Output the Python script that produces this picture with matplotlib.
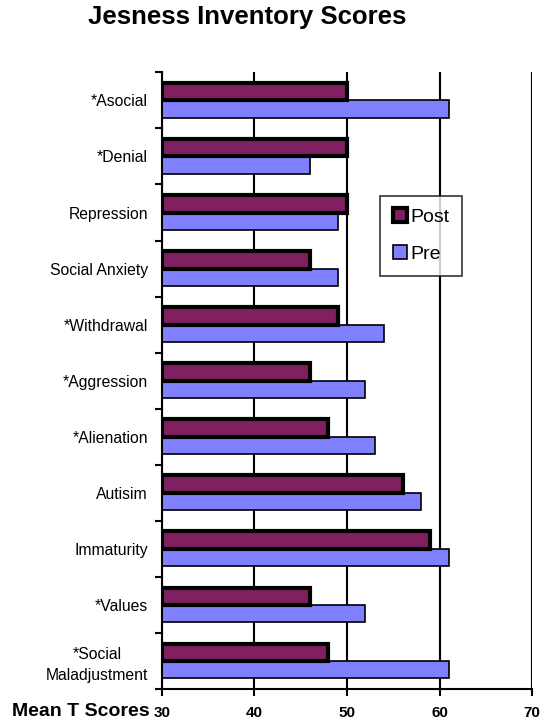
import numpy as np
import matplotlib
matplotlib.use("Agg")
import matplotlib.pyplot as plt

# Jesness inventory, mean T scores
categories = ["*Asocial", "*Denial", "Repression", "Social Anxiety", "*Withdrawal",
              "*Aggression", "*Alienation", "Autisim", "Immaturity", "*Values",
              "*Social\nMaladjustment"]
post = [50, 50, 50, 46, 49, 46, 48, 56, 59, 46, 48]
pre = [61, 46, 49, 49, 54, 52, 53, 58, 61, 52, 61]

plt.rcParams['font.family'] = ['Liberation Sans', 'DejaVu Sans']

fig = plt.figure(figsize=(5.41, 7.28), dpi=100)
ax = fig.add_axes([0.2994, 0.0536, 0.684, 0.847])

y = np.arange(len(categories))
h = 0.31
ax.barh(y - h / 2, np.array(post) - 30, left=30, height=h, color="#802060",
        edgecolor="black", linewidth=3, label="Post", zorder=3)
ax.barh(y + h / 2, np.array(pre) - 30, left=30, height=h, color="#8080FF",
        edgecolor="black", linewidth=1.2, label="Pre", zorder=2)

ax.set_xlim(30, 70)
ax.set_ylim(len(categories) - 0.5, -0.5)
ax.set_xticks([30, 40, 50, 60, 70])
ax.set_xticklabels(["30", "40", "50", "60", "70"], fontweight="bold", fontsize=11)
ax.set_yticks(y)
ax.set_yticklabels(categories, fontsize=11.3, ha="right", multialignment="center",
                   linespacing=1.5)
ax.tick_params(axis="y", which="major", length=0, pad=10)
ax.set_yticks(np.arange(-0.5, len(categories), 1), minor=True)
ax.tick_params(axis="y", which="minor", length=5, width=1.5, direction="out")
ax.tick_params(axis="x", length=5, width=1.5, direction="out", pad=7)

ax.grid(axis="x", color="black", linewidth=1.5, zorder=0)
ax.set_axisbelow(True)
for s in ["top", "right"]:
    ax.spines[s].set_visible(False)
for s in ["left", "bottom"]:
    ax.spines[s].set_linewidth(1.5)

leg = ax.legend(loc="upper left", bbox_to_anchor=(0.59, 0.8), fontsize=14,
                frameon=True, fancybox=False, edgecolor="black",
                handlelength=0.7, handleheight=0.7, handletextpad=0.2,
                labelspacing=1.0, borderpad=0.65, borderaxespad=0)
leg.get_frame().set_linewidth(1.2)

fig.text(0.456, 0.977, "Jesness Inventory Scores", ha="center", va="center",
         fontsize=18.5, fontweight="bold")
fig.text(0.022, 0.022, "Mean T Scores", ha="left", va="center",
         fontsize=14, fontweight="bold")

fig.savefig("out.png", dpi=100)
